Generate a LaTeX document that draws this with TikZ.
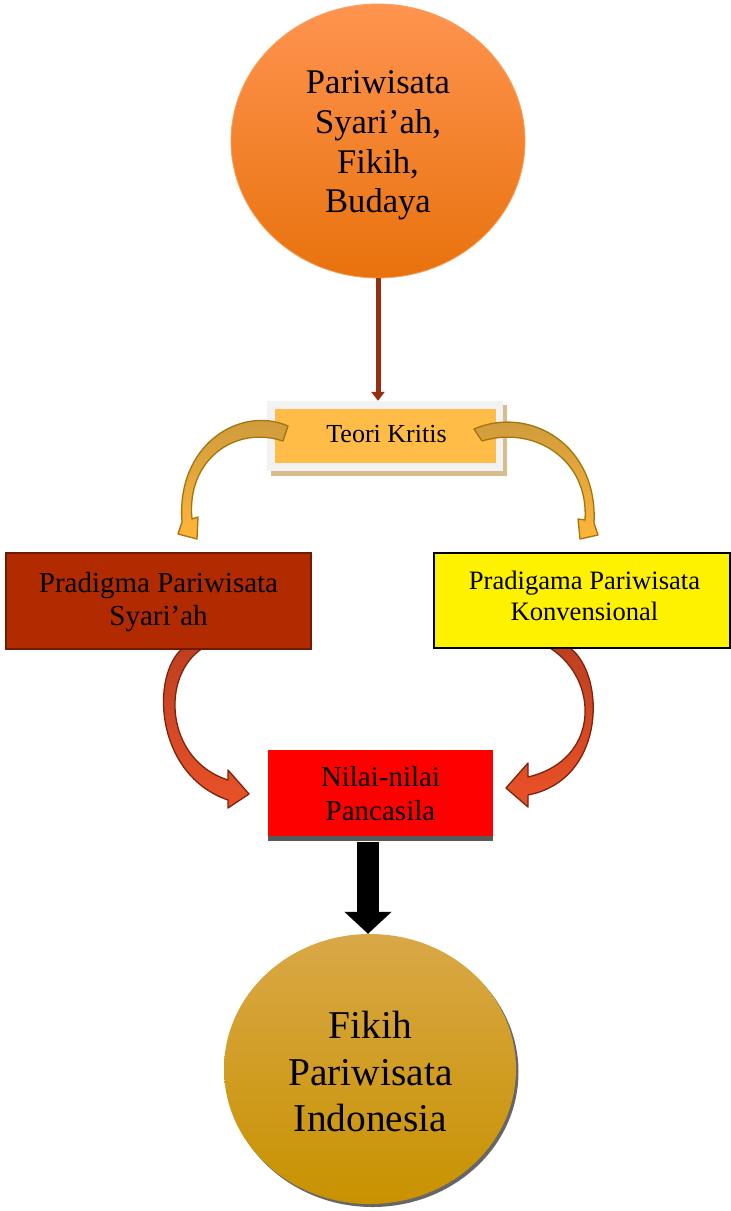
\documentclass[tikz,border=0pt]{standalone}
\usepackage{fontspec}
\setmainfont{Liberation Serif}
\usetikzlibrary{shapes.geometric,arrows.meta}
\definecolor{orTop}{HTML}{FF9450}
\definecolor{orBot}{HTML}{E8720C}
\definecolor{orEdge}{HTML}{F7A060}
\definecolor{frameGray}{HTML}{F2F2F2}
\definecolor{tanShadow}{HTML}{D8BD8C}
\definecolor{teoriFill}{HTML}{FFBC47}
\definecolor{leftRed}{HTML}{B22A00}
\definecolor{leftEdge}{HTML}{6E1A05}
\definecolor{barGray}{HTML}{595959}
\definecolor{goldTop}{HTML}{D9A847}
\definecolor{goldBot}{HTML}{C89200}
\definecolor{shadowGray}{HTML}{666666}
\definecolor{brownArrowC}{HTML}{962E14}
\definecolor{gArTop}{HTML}{C9983C}
\definecolor{gArBot}{HTML}{FFB53A}
\definecolor{gArEdge}{HTML}{A3750F}
\definecolor{rArTop}{HTML}{BE4020}
\definecolor{rArBot}{HTML}{EA5228}
\definecolor{rArEdge}{HTML}{7A2410}
\begin{document}
\begin{tikzpicture}[x=1pt,y=-1pt,
  txt/.style={align=center,inner sep=0pt,text=black},
  boxshape/.style={rectangle,inner sep=0pt},
  goldArrow/.style={top color=gArTop,bottom color=gArBot,draw=gArEdge,line width=1.3pt,line join=round},
  redArrow/.style={top color=rArTop,bottom color=rArBot,draw=rArEdge,line width=1.3pt,line join=round}]
\useasboundingbox (0,0) rectangle (731,1211);
\fill[white] (0,0) rectangle (731,1211);

% top circle
\node[ellipse,minimum width=294pt,minimum height=274pt,inner sep=0pt,
  top color=orTop,bottom color=orBot,draw=orEdge,line width=0.8pt] (src) at (378,141) {};
\node[txt,font=\fontsize{34.6}{39.8}\selectfont] (srctxt) at (378,145.5)
  {Pariwisata\\Syari’ah,\\Fikih,\\Budaya};

% Teori Kritis box
\fill[tanShadow] (271,405) rectangle (507,476);
\node[boxshape,fill=frameGray,minimum width=236pt,minimum height=70pt] (frame) at (385,436) {};
\node[boxshape,fill=teoriFill,minimum width=221pt,minimum height=54pt] (teori) at (385.5,436) {};
\node[txt,font=\fontsize{26}{30}\selectfont] (teoritxt) at (386.5,434) {Teori Kritis};

\draw[brownArrowC,line width=5pt,-{Triangle[width=13pt,length=9pt]}]
  (src.south) -- ([xshift=-7pt]frame.north);

% gold curved arrows
\path[goldArrow] (288,426) .. controls (240,405) and (176,445) .. (182,522)
  -- (178,534) -- (197,539) -- (198,517) -- (192,519)
  .. controls (186,460) and (235,425) .. (283,441) -- cycle;
\path[goldArrow] (474,429) .. controls (530,405) and (598,445) .. (594,523)
  -- (598,535) -- (580,539) -- (578,519) -- (585,520)
  .. controls (589,460) and (535,425) .. (482,441) -- cycle;

% red curved arrows
\path[redArrow] (203,648) .. controls (160,675) and (165,760) .. (228,780)
  -- (228,770) -- (249,794) -- (228,808) -- (228,800)
  .. controls (155,775) and (150,675) .. (183,648) -- cycle;
\path[redArrow] (550,648) .. controls (600,680) and (600,760) .. (528,777)
  -- (528,763) -- (506,788) -- (528,807) -- (528,795)
  .. controls (606,780) and (606,675) .. (570,648) -- cycle;

% left and right boxes
\node[boxshape,fill=leftRed,draw=leftEdge,line width=1.5pt,minimum width=305pt,minimum height=96pt] (syariah) at (158.5,601) {};
\node[txt,font=\fontsize{29}{33}\selectfont] (syariahtxt) at (158.5,601.7) {Pradigma Pariwisata\\Syari’ah};
\node[boxshape,fill=yellow,draw=black,line width=1.3pt,minimum width=296pt,minimum height=95pt] (konv) at (582,600.5) {};
\node[txt,font=\fontsize{26.6}{31}\selectfont] (konvtxt) at (584.5,595.4) {Pradigama Pariwisata\\Konvensional};

% Nilai box
\fill[barGray] (268,835) rectangle (493,841);
\node[boxshape,fill=red,minimum width=225pt,minimum height=86pt] (nilai) at (380.5,793) {};
\node[txt,font=\fontsize{29}{34}\selectfont] (nilaitxt) at (380.5,794) {Nilai-nilai\\Pancasila};

% bottom circle
\fill[shadowGray] (372.5,1072) ellipse (146pt and 135pt);
\node[ellipse,minimum width=292pt,minimum height=270pt,inner sep=0pt,
  top color=goldTop,bottom color=goldBot] (dest) at (370,1069) {};
\node[txt,font=\fontsize{39.4}{46.5}\selectfont] (desttxt) at (370.5,1072) {Fikih\\Pariwisata\\Indonesia};

\draw[black,line width=22pt,-{Triangle[width=46pt,length=22pt]}]
  ([xshift=-12.5pt,yshift=-6pt]nilai.south) -- ([xshift=-2pt]dest.north);
\end{tikzpicture}
\end{document}
